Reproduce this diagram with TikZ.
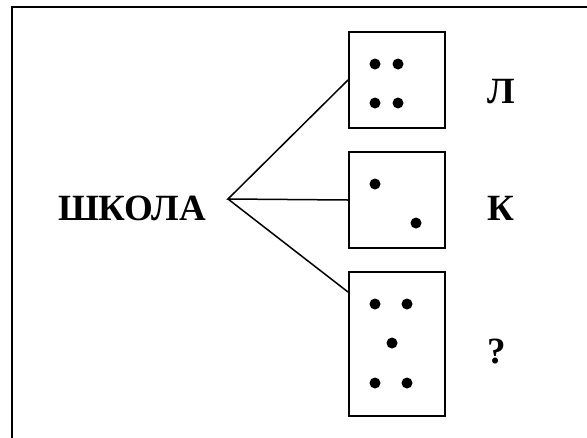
\documentclass[tikz,border=0pt]{standalone}
\usepackage{fontspec}
\setmainfont{Liberation Serif}
\tikzset{cell/.style={draw, line width=2pt, minimum width=96pt, minimum height=96pt, anchor=north west, inner sep=0pt},
         dot/.style={circle, fill, inner sep=0pt, minimum size=11pt},
         lbl/.style={font=\fontsize{37}{42}\selectfont\bfseries, inner sep=0pt}}

\begin{document}
\begin{tikzpicture}[x=1pt,y=-1pt]
  \useasboundingbox (0,0) rectangle (587,437);
  \clip (0,0) rectangle (587,437);
  \draw[line width=2pt] (11.5,7) rectangle (620,470);

  \node[lbl] (word) at (132,208) {ШКОЛА};
  \coordinate (fork) at (228,199);

  \node[cell] (box1) at (348,31) {};
  \node[cell] (box2) at (348,151) {};
  \node[cell, minimum height=144pt] (box3) at (348,271) {};

  \foreach \x/\y in {375/64, 398/64, 375/103, 398/103,
                     375/184, 416/223,
                     375/304, 407/304, 392/343, 375/383, 407/383}
    \node[dot] at (\x,\y) {};

  \draw[line width=1.5pt] (box1.west) -- (fork) -- (box2.west);
  \draw[line width=1.5pt] (fork) -- ([yshift=-21pt]box3.north west);

  \node[lbl] (l1) at (501,92) {Л};
  \node[lbl] (l2) at (501,208) {К};
  \node[lbl] (l3) at (497,352) {?};
\end{tikzpicture}
\end{document}
